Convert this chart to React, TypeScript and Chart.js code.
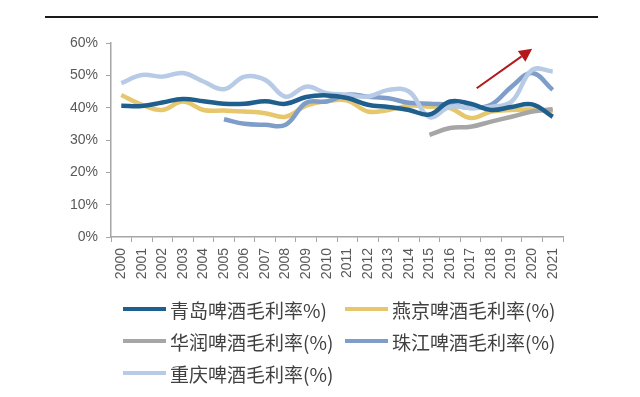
import React, { useEffect, useRef } from "react";
import { Chart, registerables } from "chart.js";

Chart.register(...registerables);

const years = ["2000","2001","2002","2003","2004","2005","2006","2007","2008","2009","2010","2011","2012","2013","2014","2015","2016","2017","2018","2019","2020","2021"];

const qingdao = [40.6, 40.5, 41.6, 42.7, 42.0, 41.2, 41.2, 42.0, 41.2, 43.3, 43.8, 43.0, 40.9, 40.2, 39.3, 37.9, 41.9, 41.2, 39.3, 40.2, 41.0, 37.2];
const yanjing = [43.9, 40.9, 39.3, 41.9, 39.3, 39.1, 38.8, 38.3, 37.2, 40.6, 42.0, 42.2, 38.8, 39.3, 40.6, 40.3, 39.9, 36.8, 38.8, 39.3, 39.4, 39.0];
const huarun = [null, null, null, null, null, null, null, null, null, null, null, null, null, null, null, 31.6, 33.7, 34.1, 35.7, 37.2, 38.8, 39.5];
const zhujiang = [null, null, null, null, null, 36.4, 35.0, 34.7, 34.7, 41.5, 41.9, 44.0, 43.4, 42.9, 41.5, 41.2, 40.9, 39.9, 40.9, 46.5, 50.7, 45.5];
const chongqing = [47.6, 50.1, 49.6, 50.7, 48.1, 45.7, 49.6, 48.6, 43.4, 46.5, 44.5, 44.0, 43.4, 45.5, 45.0, 37.1, 40.3, 39.9, 40.2, 41.9, 51.7, 51.2];

const seriesNames = ["青岛啤酒毛利率%)", "燕京啤酒毛利率(%)", "华润啤酒毛利率(%)", "珠江啤酒毛利率(%)", "重庆啤酒毛利率(%)"];
const seriesColors = ["#1F5F8E", "#E6C76E", "#A6A6A6", "#7F9DC9", "#B8CBE6"];
const yTicks = [0, 10, 20, 30, 40, 50, 60];

// arrow annotation in data space: [categoryIndex, percent]
const arrowFrom = [17.3, 46.0];
const arrowTo = [20.0, 58.2];

const decorPlugin = {
  id: "decor",
  afterDraw(chart: any) {
    const ctx = chart.ctx;
    ctx.save();
    // header rule
    ctx.strokeStyle = "#1a1a1a";
    ctx.lineWidth = 2;
    ctx.beginPath();
    ctx.moveTo(45, 17);
    ctx.lineTo(598, 17);
    ctx.stroke();
    // arrow
    const xs = chart.scales.x;
    const ys = chart.scales.y;
    const x1 = xs.getPixelForValue(arrowFrom[0]);
    const y1 = ys.getPixelForValue(arrowFrom[1]);
    const x2 = xs.getPixelForValue(arrowTo[0]);
    const y2 = ys.getPixelForValue(arrowTo[1]);
    const ang = Math.atan2(y2 - y1, x2 - x1);
    const hl = 13;
    const hw = 6.5;
    const bx = x2 - hl * Math.cos(ang);
    const by = y2 - hl * Math.sin(ang);
    ctx.strokeStyle = "#B3191C";
    ctx.fillStyle = "#B3191C";
    ctx.lineWidth = 2;
    ctx.beginPath();
    ctx.moveTo(x1, y1);
    ctx.lineTo(bx, by);
    ctx.stroke();
    ctx.beginPath();
    ctx.moveTo(x2, y2);
    ctx.lineTo(bx + hw * Math.sin(ang), by - hw * Math.cos(ang));
    ctx.lineTo(bx - hw * Math.sin(ang), by + hw * Math.cos(ang));
    ctx.closePath();
    ctx.fill();
    ctx.restore();
  },
};

export default function App() {
  const ref = useRef<HTMLCanvasElement>(null);
  useEffect(() => {
    const all = [qingdao, yanjing, huarun, zhujiang, chongqing];
    const chart = new Chart(ref.current as HTMLCanvasElement, {
      type: "line",
      data: {
        labels: years,
        datasets: all.map((d, i) => ({
          label: seriesNames[i],
          data: d,
          borderColor: seriesColors[i],
          backgroundColor: seriesColors[i],
          borderWidth: 4.5,
          pointRadius: 0,
          tension: 0.4,
          cubicInterpolationMode: "default",
          order: i === 0 ? 0 : 5 - i,
        })) as any,
      },
      options: {
        responsive: false,
        animation: false,
        layout: { padding: { left: 0, top: 43, right: 77, bottom: 0 } },
        plugins: { legend: { display: false }, tooltip: { enabled: false } },
        scales: {
          x: {
            type: "category",
            offset: true,
            grid: { display: true, drawOnChartArea: false, drawTicks: true, tickLength: 5, color: "#A6A6A6", offset: true },
            border: { display: true, color: "#A6A6A6", width: 1.5 },
            ticks: {
              minRotation: 90,
              maxRotation: 90,
              autoSkip: false,
              color: "#595959",
              font: { family: "Liberation Sans, Arial, sans-serif", size: 14 },
              padding: 6,
            },
            afterFit(scale: any) {
              scale.height = 160;
            },
          },
          y: {
            min: 0,
            max: 60,
            afterBuildTicks(scale: any) {
              scale.ticks = yTicks.map((v) => ({ value: v }));
            },
            grid: { display: true, drawOnChartArea: false, drawTicks: true, tickLength: 5, color: "#A6A6A6" },
            border: { display: true, color: "#A6A6A6", width: 1.5 },
            ticks: {
              color: "#595959",
              font: { family: "Liberation Sans, Arial, sans-serif", size: 14 },
              padding: 8,
              callback: (v: any) => v + "%",
            },
            afterFit(scale: any) {
              scale.width = 111;
            },
          },
        },
      },
      plugins: [decorPlugin],
    });
    return () => chart.destroy();
  }, []);

  const legendPos = [
    [123, 309],
    [345, 309],
    [123, 341],
    [345, 341],
    [123, 373],
  ];

  return (
    <div style={{ position: "absolute", left: 0, top: 0, width: 640, height: 397, background: "#fff", overflow: "hidden" }}>
      <canvas ref={ref} width={640} height={397} style={{ position: "absolute", left: 0, top: 0 }} />
      {seriesNames.map((n, i) => (
        <div
          key={n}
          style={{
            position: "absolute",
            left: legendPos[i][0],
            top: legendPos[i][1] - 14,
            height: 28,
            display: "flex",
            alignItems: "center",
            whiteSpace: "nowrap",
            fontFamily: "'Noto Sans CJK SC', sans-serif",
            fontSize: 19,
            color: "#404040",
          }}
        >
          <span style={{ display: "inline-block", width: 43, height: 4, background: seriesColors[i], marginRight: 4 }} />
          <span>{n}</span>
        </div>
      ))}
    </div>
  );
}
